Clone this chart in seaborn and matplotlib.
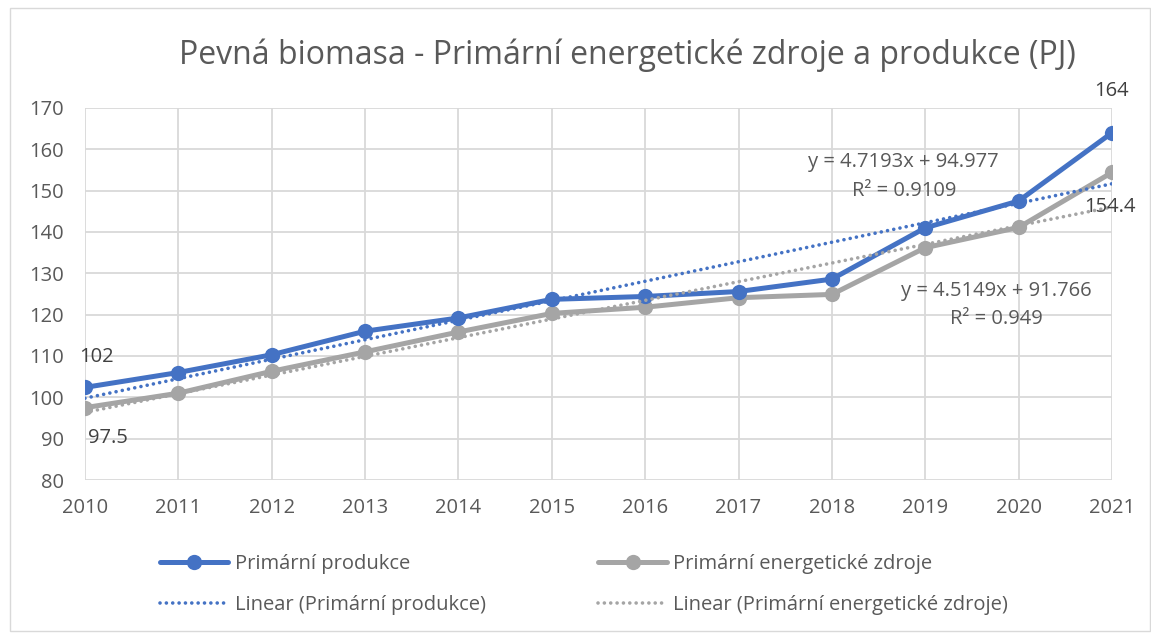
import numpy as np
import pandas as pd
import matplotlib
matplotlib.use("Agg")
import matplotlib.pyplot as plt
import seaborn as sns
from matplotlib.lines import Line2D
from matplotlib.patches import Rectangle

# values (PJ)
years = [2010, 2011, 2012, 2013, 2014, 2015, 2016, 2017, 2018, 2019, 2020, 2021]
produkce = [102.4, 106.0, 110.3, 116.0, 119.2, 123.7, 124.4, 125.6, 128.6, 141.0, 147.5, 164.0]
zdroje = [97.5, 101.0, 106.3, 111.0, 115.8, 120.3, 121.8, 124.1, 124.9, 136.2, 141.1, 154.4]

name_p = "Primární produkce"
name_z = "Primární energetické zdroje"
blue = "#4472c4"
grey = "#a5a5a5"
txt = "#595959"

df = pd.DataFrame({"rok": years, name_p: produkce, name_z: zdroje})
long = df.melt(id_vars="rok", var_name="serie", value_name="PJ")

sns.set_theme(style="white")
plt.rcParams["font.family"] = ["Open Sans", "DejaVu Sans"]

fig = plt.figure(figsize=(11.51, 6.34), dpi=100)
ax = fig.add_axes([0.0738, 0.2429, 0.8923, 0.5868])
fig.patches.append(Rectangle((0.009, 0.005), 0.99, 0.982, transform=fig.transFigure,
                             fill=False, edgecolor="#d9d9d9", lw=1))

dot = (0, (0.01, 1.75))
dot_lw = 2.6

# linear trendlines (Excel x = 1..n)
xi = np.arange(1, len(years) + 1)
for col, c in [(name_z, grey), (name_p, blue)]:
    k, q = np.polyfit(xi, df[col], 1)
    ax.plot(years, k * xi + q, color=c, lw=dot_lw, linestyle=dot,
            dash_capstyle="round", zorder=3)

sns.lineplot(data=long, x="rok", y="PJ", hue="serie",
             palette={name_p: blue, name_z: grey}, hue_order=[name_z, name_p],
             marker="o", markersize=11, markeredgewidth=0, linewidth=3.6,
             legend=False, ax=ax, zorder=2)

ax.set_xlim(2010, 2021)
ax.set_ylim(80, 170)
ax.set_xticks(years)
ax.set_yticks(range(80, 171, 10))
ax.set_xlabel("")
ax.set_ylabel("")
ax.grid(True, color="#d9d9d9", lw=1.3)
for s in ax.spines.values():
    s.set_visible(False)
ax.tick_params(axis="both", length=0, labelsize=14.5, colors=txt)
ax.tick_params(axis="x", pad=13)
ax.tick_params(axis="y", pad=15)

fig.text(0.545, 0.913, "Pevná biomasa - Primární energetické zdroje a produkce (PJ)",
         ha="center", va="center", fontsize=23, color=txt)

# data labels
lab = dict(fontsize=14.5, color="#404040", ha="center", va="center")
ax.text(2010.12, 109.8, "102", **lab)
ax.text(2010.25, 90.2, "97.5", **lab)
ax.text(2021.0, 174.2, "164", **lab, clip_on=False)
ax.text(2020.98, 146.0, "154.4", **lab, clip_on=False)

eq = dict(fontsize=14.5, color=txt, ha="center", va="center")
ax.text(2018.77, 157.0, "y = 4.7193x + 94.977", **eq)
ax.text(2018.77, 150.0, "R² = 0.9109", **eq)
ax.text(2019.76, 125.7, "y = 4.5149x + 91.766", **eq)
ax.text(2019.76, 118.9, "R² = 0.949", **eq)

handles = [
    Line2D([], [], color=blue, lw=3.6, marker="o", markersize=11, markeredgewidth=0),
    Line2D([], [], color=blue, lw=dot_lw, linestyle=dot, dash_capstyle="round"),
    Line2D([], [], color=grey, lw=3.6, marker="o", markersize=11, markeredgewidth=0),
    Line2D([], [], color=grey, lw=dot_lw, linestyle=dot, dash_capstyle="round"),
]
labels = [name_p, "Linear (" + name_p + ")", name_z, "Linear (" + name_z + ")"]
fig.legend(handles, labels, ncol=2, loc="center left", bbox_to_anchor=(0.139, 0.078),
           frameon=False, fontsize=14.5, labelcolor=txt, handlelength=3.4,
           handletextpad=0.3, columnspacing=5.6, labelspacing=1.05,
           borderpad=0, borderaxespad=0)

fig.savefig("out.png", dpi=100)
